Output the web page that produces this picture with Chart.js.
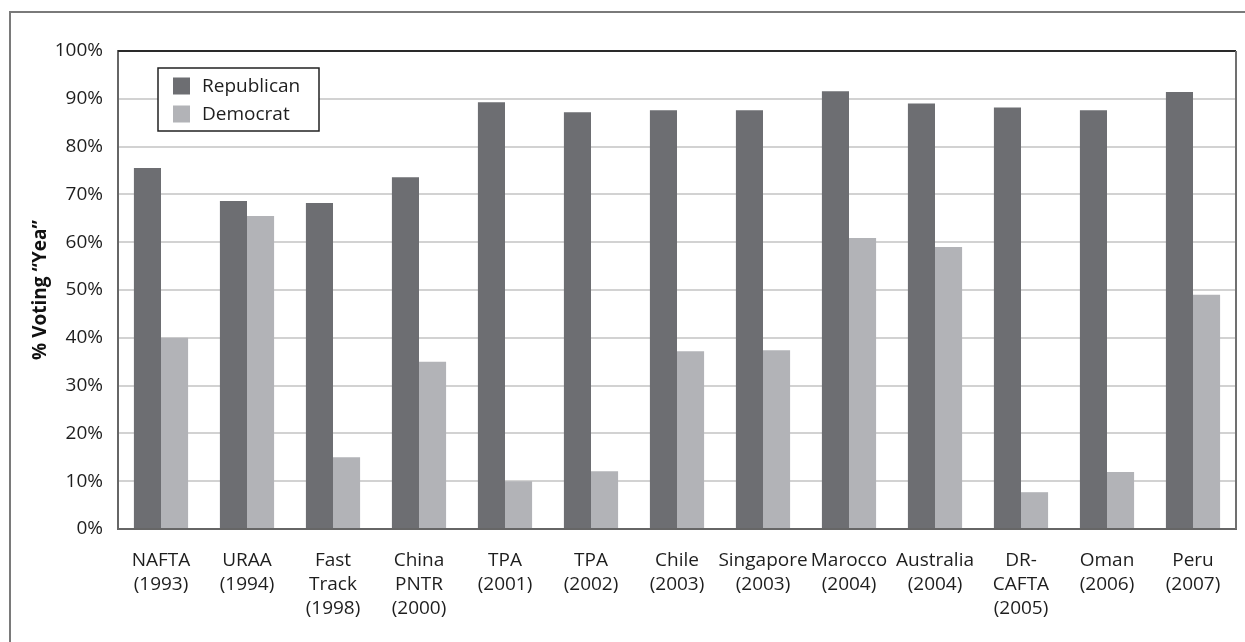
<!DOCTYPE html>
<html>
<head>
<meta charset="utf-8">
<script src="https://cdn.jsdelivr.net/npm/chart.js@4"></script>
<style>
  html, body { margin: 0; padding: 0; background: #fff; }
  #wrap { width: 1245px; height: 642px; }
</style>
</head>
<body>
<div id="wrap"><canvas id="c" width="1245" height="642"></canvas></div>
<script>
// Trade votes in the House: share of each party voting "Yea"
const agreements = [
  ['NAFTA', '(1993)'],
  ['URAA', '(1994)'],
  ['Fast', 'Track', '(1998)'],
  ['China', 'PNTR', '(2000)'],
  ['TPA', '(2001)'],
  ['TPA', '(2002)'],
  ['Chile', '(2003)'],
  ['Singapore', '(2003)'],
  ['Marocco', '(2004)'],
  ['Australia', '(2004)'],
  ['DR-', 'CAFTA', '(2005)'],
  ['Oman', '(2006)'],
  ['Peru', '(2007)']
];
const republican = [75.5, 68.6, 68.2, 73.6, 89.3, 87.2, 87.6, 87.6, 91.6, 89.0, 88.2, 87.6, 91.4];
const democrat   = [40.0, 65.5, 15.0, 35.0, 10.0, 12.1, 37.2, 37.4, 60.9, 59.0, 7.7, 11.9, 49.0];
const yTicks = [0, 10, 20, 30, 40, 50, 60, 70, 80, 90, 100];

const FONT = '"Open Sans", "Noto Sans", sans-serif';
const PLOT = { left: 118, top: 51, right: 1236, bottom: 529 };

// Outer frame, plot frame and the boxed legend inside the plot
const decorations = {
  id: 'decorations',
  beforeDraw(chart) {
    const ctx = chart.ctx;
    ctx.save();
    ctx.strokeStyle = '#7a7a7a';
    ctx.lineWidth = 2;
    ctx.beginPath();
    ctx.moveTo(10, chart.height);
    ctx.lineTo(10, 12);
    ctx.lineTo(chart.width, 12);
    ctx.stroke();
    ctx.restore();
  },
  afterDatasetsDraw(chart) {
    const ctx = chart.ctx;
    const a = chart.chartArea;
    ctx.save();
    ctx.lineWidth = 2;
    ctx.strokeStyle = '#2a2a2a';
    ctx.beginPath();
    ctx.moveTo(a.left, a.top);
    ctx.lineTo(a.right, a.top);
    ctx.stroke();
    ctx.strokeStyle = '#707070';
    ctx.beginPath();
    ctx.moveTo(a.right, a.top);
    ctx.lineTo(a.right, a.bottom);
    ctx.stroke();

    // legend
    const bx = a.left + 40, by = a.top + 17, bw = 161, bh = 63;
    ctx.fillStyle = '#fff';
    ctx.fillRect(bx, by, bw, bh);
    ctx.strokeStyle = '#222';
    ctx.lineWidth = 1.5;
    ctx.strokeRect(bx, by, bw, bh);
    ctx.font = '19px ' + FONT;
    ctx.textBaseline = 'middle';
    chart.data.datasets.forEach((ds, i) => {
      const rowY = by + 18 + i * 28;
      ctx.fillStyle = ds.backgroundColor;
      ctx.fillRect(bx + 15, rowY - 8.5, 17, 17);
      ctx.fillStyle = '#1e1e1e';
      ctx.fillText(ds.label, bx + 44, rowY + 1);
    });
    ctx.restore();
  }
};

new Chart(document.getElementById('c'), {
  type: 'bar',
  data: {
    labels: agreements,
    datasets: [
      { label: 'Republican', data: republican, backgroundColor: '#6d6e72' },
      { label: 'Democrat', data: democrat, backgroundColor: '#b2b3b7' }
    ]
  },
  options: {
    responsive: false,
    animation: false,
    events: [],
    layout: { padding: { left: 0, top: PLOT.top, right: 1245 - PLOT.right, bottom: 0 } },
    datasets: { bar: { categoryPercentage: 0.63, barPercentage: 1.0 } },
    plugins: { legend: { display: false }, tooltip: { enabled: false } },
    scales: {
      x: {
        grid: { display: false, drawTicks: false },
        border: { display: true, color: '#666', width: 2 },
        ticks: {
          color: '#1e1e1e',
          font: { family: FONT, size: 19, lineHeight: 1.26 },
          padding: 20,
          maxRotation: 0,
          autoSkip: false
        },
        afterFit(scale) { scale.height = 642 - PLOT.bottom; }
      },
      y: {
        min: 0,
        max: 100,
        afterBuildTicks(scale) { scale.ticks = yTicks.map(v => ({ value: v })); },
        grid: { color: '#d2d2d2', lineWidth: 2, drawTicks: false },
        border: { display: true, color: '#666', width: 2 },
        ticks: {
          color: '#1e1e1e',
          font: { family: FONT, size: 19 },
          padding: 15,
          callback: v => v + '%'
        },
        title: {
          display: true,
          text: '% Voting \u201CYea\u201D',
          color: '#111',
          font: { family: FONT, size: 19, weight: 'bold' },
          padding: { top: 29, bottom: 0 }
        },
        afterFit(scale) { scale.width = PLOT.left; }
      }
    }
  },
  plugins: [decorations]
});
</script>
</body>
</html>
